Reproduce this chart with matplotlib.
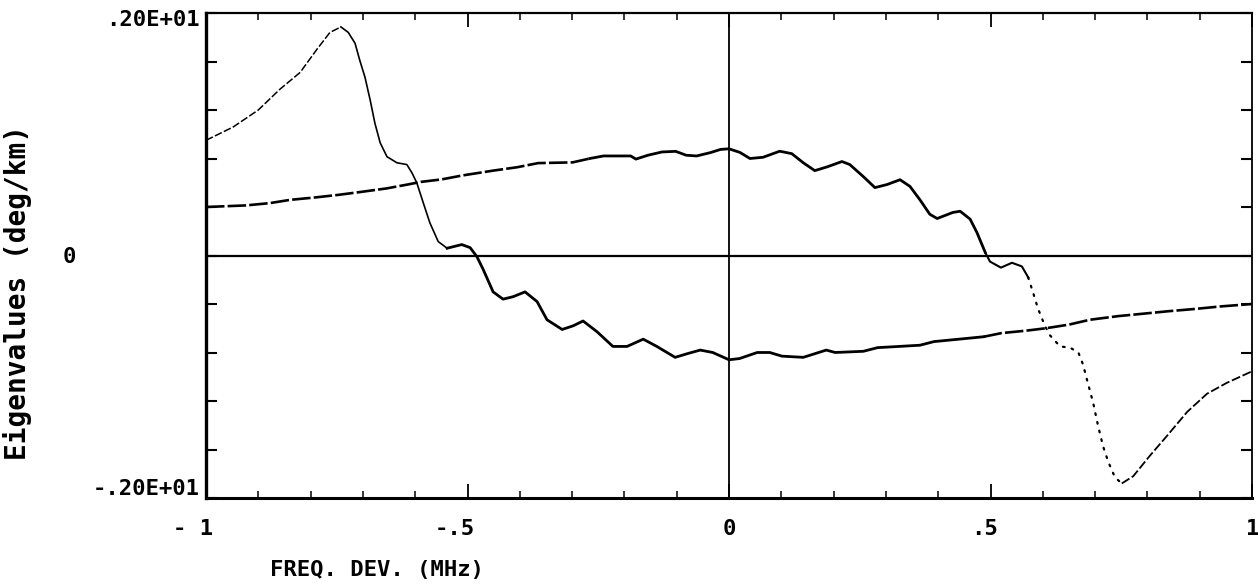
import matplotlib
matplotlib.use('Agg')
import matplotlib.pyplot as plt
import matplotlib.transforms as mtransforms
import numpy as np

plt.rcParams['font.family'] = ['DejaVu Sans Mono']
plt.rcParams['font.weight'] = 'bold'

# eigenvalue 1 (starts high on the left, ends at -0.4)
freq1 = [-1.0, -0.948, -0.90, -0.859, -0.82, -0.788, -0.763, -0.742, -0.728, -0.715,
         -0.706, -0.696, -0.686, -0.677, -0.667, -0.654, -0.635, -0.616, -0.606, -0.597,
         -0.585, -0.572, -0.556, -0.539, -0.511, -0.495, -0.482, -0.470, -0.451, -0.432,
         -0.413, -0.390, -0.367, -0.348, -0.319, -0.298, -0.279, -0.252, -0.222, -0.195,
         -0.164, -0.138, -0.103, -0.080, -0.055, -0.031, 0.0, 0.020, 0.054, 0.078,
         0.101, 0.142, 0.186, 0.203, 0.257, 0.284, 0.325, 0.365, 0.392, 0.440,
         0.487, 0.521, 0.568, 0.606, 0.650, 0.690, 0.744, 0.792, 0.839, 0.893,
         0.940, 1.0]
eig1 = [0.95, 1.06, 1.20, 1.37, 1.51, 1.70, 1.84, 1.885, 1.84, 1.75,
        1.61, 1.47, 1.28, 1.09, 0.93, 0.815, 0.765, 0.75, 0.68, 0.60,
        0.44, 0.27, 0.115, 0.06, 0.09, 0.065, -0.01, -0.115, -0.30, -0.36,
        -0.34, -0.30, -0.38, -0.53, -0.61, -0.58, -0.54, -0.63, -0.75, -0.75,
        -0.69, -0.75, -0.84, -0.81, -0.78, -0.80, -0.86, -0.85, -0.80, -0.80,
        -0.83, -0.84, -0.78, -0.80, -0.79, -0.76, -0.75, -0.74, -0.71, -0.69,
        -0.67, -0.64, -0.62, -0.60, -0.57, -0.53, -0.50, -0.48, -0.46, -0.44,
        -0.42, -0.40]

# eigenvalue 2 (starts at 0.4, deep minimum near 0.75)
freq2 = [-1.0, -0.924, -0.878, -0.839, -0.793, -0.747, -0.701, -0.655, -0.615, -0.589,
         -0.549, -0.510, -0.451, -0.405, -0.365, -0.299, -0.266, -0.240, -0.188, -0.178,
         -0.155, -0.128, -0.102, -0.082, -0.062, -0.036, -0.016, 0.0, 0.021, 0.040,
         0.065, 0.097, 0.120, 0.142, 0.164, 0.187, 0.216, 0.231, 0.257, 0.279,
         0.302, 0.327, 0.346, 0.365, 0.384, 0.398, 0.428, 0.442, 0.461, 0.474,
         0.490, 0.499, 0.520, 0.541, 0.560, 0.572, 0.581, 0.591, 0.604, 0.614,
         0.633, 0.652, 0.668, 0.677, 0.686, 0.696, 0.706, 0.715, 0.725, 0.738,
         0.751, 0.773, 0.805, 0.837, 0.876, 0.914, 0.952, 1.0]
eig2 = [0.40, 0.413, 0.432, 0.459, 0.478, 0.50, 0.526, 0.553, 0.585, 0.607,
        0.628, 0.660, 0.70, 0.728, 0.762, 0.768, 0.80, 0.821, 0.821, 0.795,
        0.827, 0.854, 0.859, 0.827, 0.821, 0.848, 0.875, 0.88, 0.85, 0.80,
        0.81, 0.86, 0.84, 0.765, 0.70, 0.73, 0.775, 0.75, 0.65, 0.56,
        0.585, 0.625, 0.57, 0.46, 0.34, 0.305, 0.355, 0.365, 0.30, 0.19,
        0.025, -0.05, -0.10, -0.06, -0.09, -0.18, -0.30, -0.44, -0.58, -0.66,
        -0.75, -0.76, -0.80, -0.90, -1.05, -1.21, -1.41, -1.57, -1.70, -1.83,
        -1.88, -1.82, -1.65, -1.49, -1.29, -1.14, -1.05, -0.955]

xtick_vals = [-1, -0.5, 0, 0.5, 1]
xtick_labels = ['- 1', '-.5', '0', '.5', '1']
ytick_labels = ['.20E+01', '0', '-.20E+01']

fig = plt.figure(figsize=(12.58, 5.88), dpi=100)
ax = fig.add_axes([206 / 1258, 90 / 588, 1046 / 1258, 485 / 588])
ax.set_xlim(-1, 1)
ax.set_ylim(-2, 2)

ax.axhline(0, color='black', lw=1.6)
ax.axvline(0, color='black', lw=1.3)

x1, y1 = np.array(freq1), np.array(eig1)
x2, y2 = np.array(freq2), np.array(eig2)

# curve 1, drawn piecewise to mimic the plotter strokes
ax.plot(x1[:8], y1[:8], color='black', lw=1.1, ls=(0, (5, 1.5)))
ax.plot(x1[7:24], y1[7:24], color='black', lw=1.2)
ax.plot(x1[23:61], y1[23:61], color='black', lw=2.0)
ax.plot(x1[60:], y1[60:], color='black', lw=1.9, ls=(0, (7, 1.2)))

# curve 2
ax.plot(x2[:17], y2[:17], color='black', lw=1.9, ls=(0, (7, 1.2)))
ax.plot(x2[16:51], y2[16:51], color='black', lw=2.0)
ax.plot(x2[50:56], y2[50:56], color='black', lw=1.5)
ax.plot(x2[55:71], y2[55:71], color='black', lw=1.6, ls=(0, (0.8, 3.2)),
        dash_capstyle='round')
ax.plot(x2[70:], y2[70:], color='black', lw=1.3, ls=(0, (5, 1.5)))

# ticks
ax.set_xticks(xtick_vals)
ax.set_xticks(np.arange(-1, 1.001, 0.1), minor=True)
ax.set_yticks(np.arange(-2, 2.001, 0.4))
ax.tick_params(axis='x', which='major', direction='in', length=10, width=1.3,
               top=True, labelbottom=False)
ax.tick_params(axis='x', which='minor', direction='in', length=5, width=1.1, top=True)
ax.tick_params(axis='y', which='major', direction='in', length=8, width=1.5,
               right=True, labelleft=False)
for side, w in [('left', 2.4), ('bottom', 2.2), ('top', 1.6), ('right', 1.3)]:
    ax.spines[side].set_linewidth(w)

# x tick labels: last character sits over the tick
tr = mtransforms.offset_copy(ax.get_xaxis_transform(), fig=fig, x=5, y=-22, units='points')
for v, s in zip(xtick_vals, xtick_labels):
    ax.text(v, 0, s, transform=tr, ha='right', va='center', fontsize=16, fontweight='bold')

# y tick labels
fig.text(200 / 1258, 1 - 20 / 588, ytick_labels[0], ha='right', va='center',
         fontsize=16, fontweight='bold')
fig.text(69 / 1258, 1 - 257 / 588, ytick_labels[1], ha='center', va='center',
         fontsize=16, fontweight='bold')
fig.text(200 / 1258, 1 - 489 / 588, ytick_labels[2], ha='right', va='center',
         fontsize=16, fontweight='bold')

fig.text(18 / 1258, 1 - 292 / 588, 'Eigenvalues (deg/km)', rotation=90,
         ha='center', va='center', fontsize=20, fontweight='bold')
fig.text(270 / 1258, 1 - 570 / 588, 'FREQ. DEV. (MHz)', ha='left', va='center',
         fontsize=16, fontweight='bold')

fig.savefig('out.png', dpi=100)
